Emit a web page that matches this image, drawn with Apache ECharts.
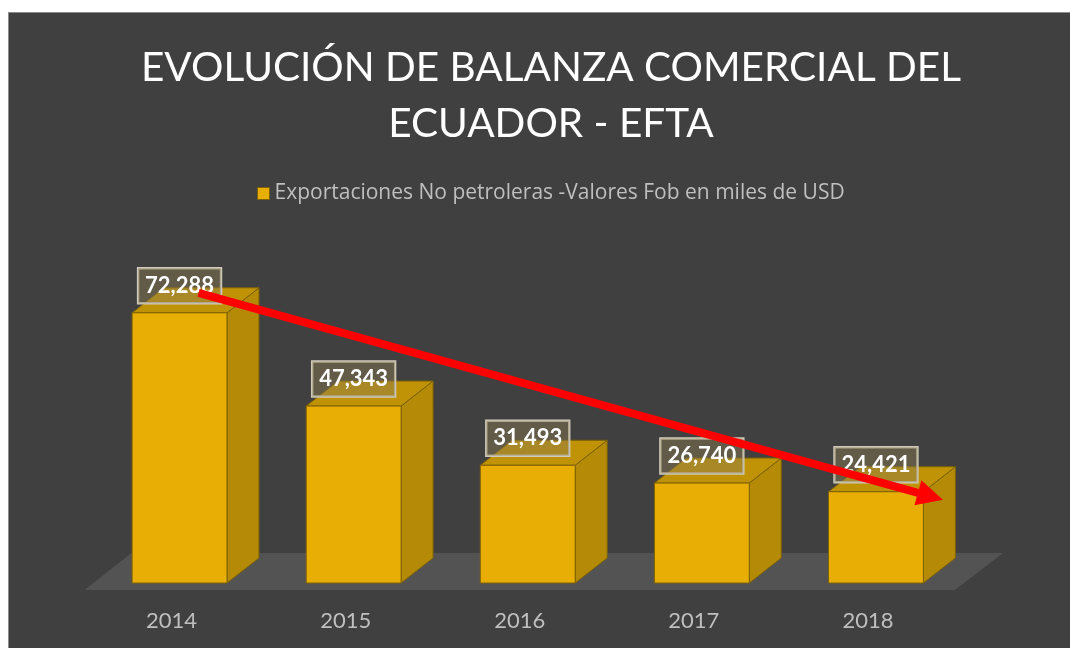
<!DOCTYPE html>
<html>
<head>
<meta charset="utf-8">
<script src="https://cdn.jsdelivr.net/npm/echarts@6/dist/echarts.min.js"></script>
<style>
  html, body { margin: 0; padding: 0; background: #fff; }
  #panel { position: absolute; left: 8px; top: 12px; width: 1062px; height: 636px;
           background: #404040; border-left: 1px solid #8c8c8c; border-top: 1px solid #8c8c8c; }
  #main { position: absolute; left: 0; top: 0; width: 1070px; height: 648px; }
</style>
</head>
<body>
<div id="panel"></div>
<div id="main"></div>
<script>
var years = ['2014', '2015', '2016', '2017', '2018'];
var exportsNoPetroleras = [72288, 47343, 31493, 26740, 24421];
var seriesName = 'Exportaciones No petroleras -Valores Fob en miles de USD';
var titleLines = ['EVOLUCIÓN DE BALANZA COMERCIAL DEL', 'ECUADOR - EFTA'];

var FRONT = '#E8AE06', TOP = '#C09307', SIDE = '#B48A07', EDGE = '#7d6205';
var DX = 32, DY = 25;

var dom = document.getElementById('main');
var myChart = echarts.init(dom, null, { renderer: 'canvas' });

function renderBar(params, api) {
  var base = api.coord([api.value(0), 0]);
  var top = api.coord([api.value(0), api.value(1)]);
  var w = api.size([1, 0])[0] * 0.545;
  var cx = base[0] + 8;
  var x0 = cx - w / 2, x1 = cx + w / 2;
  var yt = top[1], yb = base[1];
  var label = api.value(1).toLocaleString('en-US');
  return {
    type: 'group',
    children: [
      { type: 'polygon', shape: { points: [[x1, yt], [x1 + DX, yt - DY], [x1 + DX, yb - DY], [x1, yb]] },
        style: { fill: SIDE, stroke: EDGE, lineWidth: 1 } },
      { type: 'polygon', shape: { points: [[x0, yt], [x1, yt], [x1 + DX, yt - DY], [x0 + DX, yt - DY]] },
        style: { fill: TOP, stroke: EDGE, lineWidth: 1 } },
      { type: 'rect', shape: { x: x0, y: yt, width: w, height: yb - yt },
        style: { fill: FRONT, stroke: EDGE, lineWidth: 1 } },
      { type: 'text', x: cx, y: yt - 27,
        style: { text: label, fill: '#ffffff', font: 'bold 22px Lato', align: 'center', verticalAlign: 'middle',
                 backgroundColor: 'rgba(140,125,80,0.45)', borderColor: '#cfcabb', borderWidth: 1.2,
                 padding: [7, 7, 6, 7] } }
    ]
  };
}

var option = {
  textStyle: { fontFamily: 'Lato' },
  title: {
    text: titleLines.join('\n'),
    left: 546, textAlign: 'center', top: 35,
    textStyle: { color: '#ffffff', fontSize: 40.5, fontWeight: 'normal', lineHeight: 56, fontFamily: 'Lato' }
  },
  legend: {
    left: 252, top: 178,
    itemWidth: 12, itemHeight: 12, itemGap: 10,
    textStyle: { color: '#bfbfbf', fontSize: 21, fontFamily: 'Open Sans' },
    data: [{ name: seriesName, icon: 'rect', itemStyle: { color: FRONT, borderColor: EDGE, borderWidth: 1 } }]
  },
  grid: { left: 84.5, right: 115, top: 284, bottom: 65 },
  xAxis: {
    type: 'category', data: years,
    axisLine: { show: false }, axisTick: { show: false },
    axisLabel: { color: '#bfbfbf', fontSize: 22, margin: 27, fontFamily: 'Lato' }
  },
  yAxis: { type: 'value', min: 0, max: 80000, show: false, splitLine: { show: false } },
  series: [{
    name: seriesName, type: 'custom', renderItem: renderBar,
    encode: { x: 0, y: 1 },
    data: years.map(function (y, i) { return [y, exportsNoPetroleras[i]]; }),
    z: 5
  }]
};

myChart.setOption(option);

// floor and trend arrow, placed from the axis scales
var zeroL = myChart.convertToPixel({ gridIndex: 0 }, [years[0], 0]);
var zeroR = myChart.convertToPixel({ gridIndex: 0 }, [years[years.length - 1], 0]);
var half = (zeroR[0] - zeroL[0]) / (years.length - 1) / 2;
var fy = zeroL[1] + 7;
var floorPts = [[zeroL[0] - half, fy], [zeroR[0] + half, fy], [zeroR[0] + half + 48, fy - 37], [zeroL[0] - half + 47, fy - 37]];

var p0 = myChart.convertToPixel({ gridIndex: 0 }, [years[0], exportsNoPetroleras[0]]);
var p1 = myChart.convertToPixel({ gridIndex: 0 }, [years[4], exportsNoPetroleras[4]]);
var sx = p0[0] + 27, sy = p0[1] - 20;
var tx = p1[0] + 75, ty = p1[1] + 8;
var ang = Math.atan2(ty - sy, tx - sx);
var headL = 26, headW = 13;
var bx = tx - headL * Math.cos(ang), by = ty - headL * Math.sin(ang);
var nx = -Math.sin(ang), ny = Math.cos(ang);

myChart.setOption({
  graphic: [
    { type: 'polygon', z: 1, shape: { points: floorPts }, style: { fill: '#545354' } },
    { type: 'line', z: 100, shape: { x1: sx, y1: sy, x2: bx + 2 * Math.cos(ang), y2: by + 2 * Math.sin(ang) },
      style: { stroke: '#ff0000', lineWidth: 8 } },
    { type: 'polygon', z: 100, shape: { points: [[tx, ty], [bx + nx * headW, by + ny * headW], [bx - nx * headW, by - ny * headW]] },
      style: { fill: '#ff0000' } }
  ]
});
</script>
</body>
</html>
